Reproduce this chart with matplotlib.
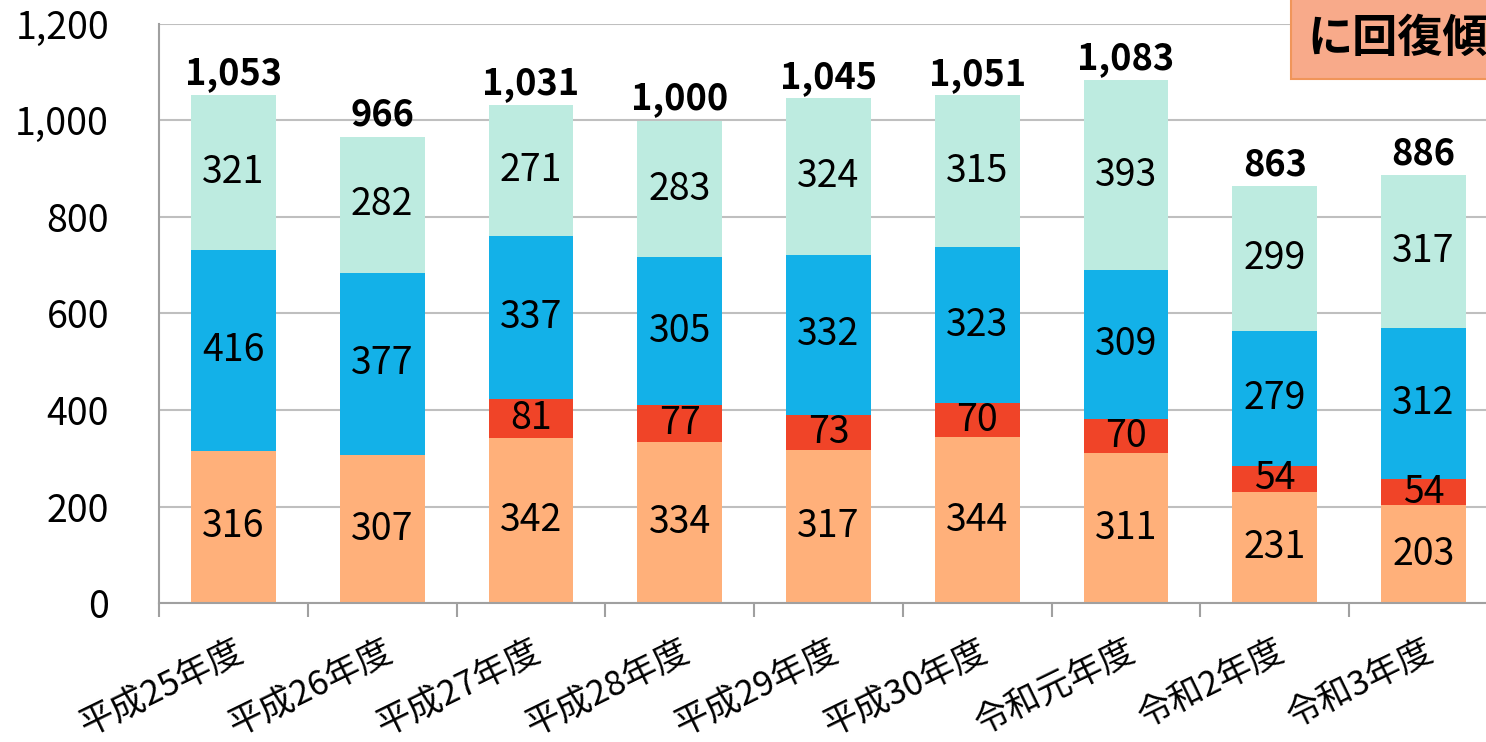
import matplotlib
matplotlib.use("Agg")
import matplotlib.pyplot as plt
import numpy as np

plt.rcParams['font.family'] = ['Noto Sans CJK JP', 'DejaVu Sans']

categories = ["平成25年度", "平成26年度", "平成27年度", "平成28年度", "平成29年度",
              "平成30年度", "令和元年度", "令和2年度", "令和3年度"]
s_orange = [316, 307, 342, 334, 317, 344, 311, 231, 203]
s_red = [0, 0, 81, 77, 73, 70, 70, 54, 54]
s_blue = [416, 377, 337, 305, 332, 323, 309, 279, 312]
s_teal = [321, 282, 271, 283, 324, 315, 393, 299, 317]
totals = [1053, 966, 1031, 1000, 1045, 1051, 1083, 863, 886]

series = [s_orange, s_red, s_blue, s_teal]
colors = ["#FFB07A", "#F04428", "#13B1E8", "#BDEBE0"]

fig = plt.figure(figsize=(14.86, 7.42), dpi=100)
ax = fig.add_axes([0.107, 0.187, 0.901, 0.781])

x = np.arange(len(categories))
bottom = np.zeros(len(categories))
for vals, c in zip(series, colors):
    vals = np.array(vals)
    ax.bar(x, vals, 0.57, bottom=bottom, color=c, zorder=2)
    for xi, b, v in zip(x, bottom, vals):
        if v > 0:
            ax.text(xi, b + v / 2, f"{v}", ha="center", va="center", fontsize=27, zorder=3)
    bottom += vals

for xi, t in zip(x, totals):
    ax.text(xi, t + 6, f"{t:,}", ha="center", va="bottom", fontsize=26, fontweight="bold")

ax.set_xlim(-0.5, len(categories) - 0.5)
ax.set_ylim(0, 1200)
ax.set_yticks(range(0, 1201, 200))
ax.set_yticklabels([f"{v:,}" for v in range(0, 1201, 200)], fontsize=27)
ax.tick_params(axis="y", length=0, pad=36)
ax.yaxis.grid(True, color="#BFBFBF", linewidth=1.5, zorder=0)
ax.set_axisbelow(True)

ax.set_xticks(x)
ax.set_xticklabels(categories, rotation=26, ha="right", rotation_mode="anchor", fontsize=25)
ax.tick_params(axis="x", length=0, pad=22)
ax.set_xticks(np.arange(-0.5, len(categories), 1), minor=True)
ax.tick_params(axis="x", which="minor", length=10, width=1.5, color="#A0A0A0")

for s in ["top", "right"]:
    ax.spines[s].set_visible(False)
for s in ["left", "bottom"]:
    ax.spines[s].set_color("#A0A0A0")
    ax.spines[s].set_linewidth(1.5)

# the callout box runs off the right edge, as in the source image
fig.text(0.880, 0.948, "に回復傾向", fontsize=32.5, fontweight="bold", ha="left", va="center",
         bbox=dict(boxstyle="square,pad=0.38", facecolor="#F8AA8A", edgecolor="#F0955A", linewidth=1.5))

fig.savefig("out.png", dpi=100)
